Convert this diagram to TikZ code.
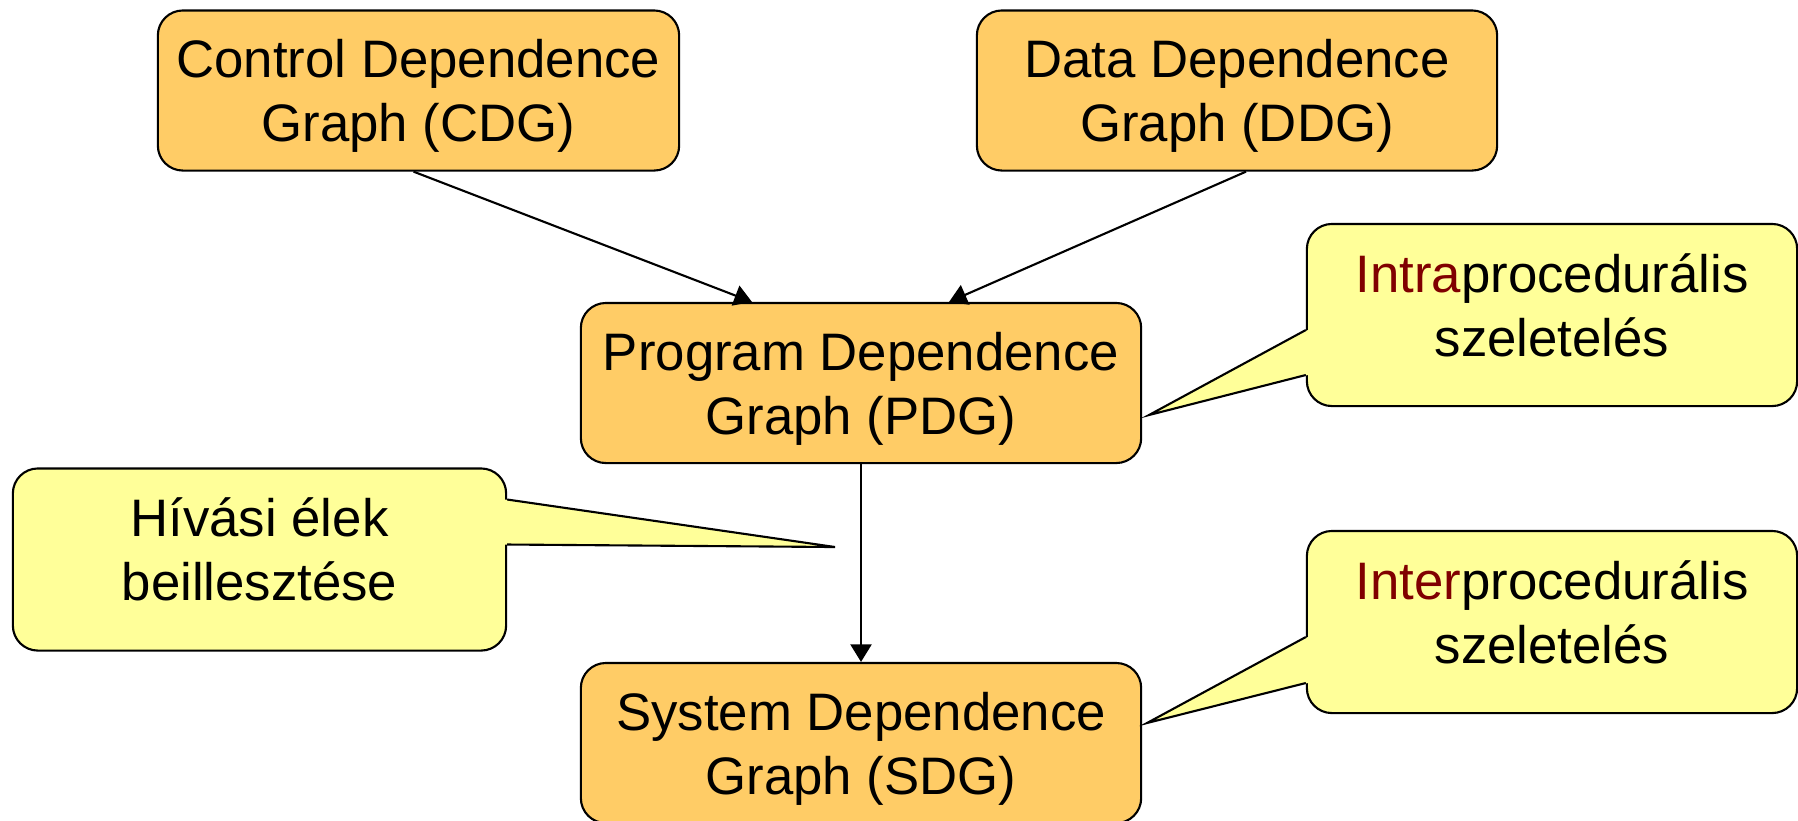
\documentclass[tikz,border=0pt]{standalone}
\usepackage{fontspec}
\setmainfont{Liberation Sans}
\usepackage{xcolor}
\usetikzlibrary{arrows.meta, calc}

\definecolor{boxorange}{HTML}{FFCC66}
\definecolor{noteyellow}{HTML}{FFFF99}
\definecolor{darkred}{HTML}{800000}

\tikzset{
    graphbox/.style={draw, fill=boxorange, line width=0.6pt, rounded corners=0.25cm,
        align=center, inner sep=0pt, minimum height=1.6cm, text depth=0pt},
    notebox/.style={draw, fill=noteyellow, line width=0.6pt, rounded corners=0.25cm,
        align=center, inner sep=0pt, minimum width=4.9cm, minimum height=1.82cm, text depth=5.7pt},
    pointer/.style={line width=0.6pt, line join=miter}
}

\begin{document}
\begin{tikzpicture}[x=0.01cm, y=-0.01cm, >={Triangle[length=5pt, width=6pt]},
    font=\fontsize{15pt}{18.2pt}\selectfont]
    \useasboundingbox (0,0) rectangle (1798,820);

    % Graphs
    \node[graphbox, minimum width=5.21cm] (cdg) at (418.5, 90.5) {Control Dependence\\Graph (CDG)};
    \node[graphbox, minimum width=5.2cm] (ddg) at (1237, 90.5) {Data Dependence\\Graph (DDG)};
    \node[graphbox, minimum width=5.6cm] (pdg) at (861, 383) {Program Dependence\\Graph (PDG)};
    \node[graphbox, minimum width=5.6cm] (sdg) at (861, 743) {System Dependence\\Graph (SDG)};

    % Edges
    \draw[->, line width=0.6pt] ([xshift=-0.05cm]cdg.south) -- ([xshift=-1.09cm]pdg.north);
    \draw[->, line width=0.6pt] ([xshift=0.09cm]ddg.south) -- ([xshift=0.88cm]pdg.north);
    \draw[->, line width=0.6pt] (pdg.south) -- (sdg.north);

    % Notes
    \node[notebox] (intra) at (1552, 315) {\textcolor{darkred}{Intra}procedurális\\szeletelés};
    \node[notebox] (inter) at (1552, 622) {\textcolor{darkred}{Inter}procedurális\\szeletelés};
    \node[notebox, minimum width=4.93cm] (hivas) at (259.5, 559.5) {Hívási élek\\beillesztése};

    \coordinate (intratip) at (1149, 415);
    \coordinate (intertip) at (1147, 723);
    \coordinate (hivastip) at (835, 547);

    \fill[noteyellow] ($(intra.west)+(2,15)$) -- (intratip) -- ($(intra.west)+(2,60)$) -- cycle;
    \draw[pointer] ($(intra.west)+(0,15)$) -- (intratip) -- ($(intra.west)+(0,60)$);

    \fill[noteyellow] ($(inter.west)+(2,15)$) -- (intertip) -- ($(inter.west)+(2,61)$) -- cycle;
    \draw[pointer] ($(inter.west)+(0,15)$) -- (intertip) -- ($(inter.west)+(0,61)$);

    \fill[noteyellow] ($(hivas.east)+(-2,-60)$) -- (hivastip) -- ($(hivas.east)+(-2,-15)$) -- cycle;
    \draw[pointer] ($(hivas.east)+(0,-60)$) -- (hivastip) -- ($(hivas.east)+(0,-15)$);
\end{tikzpicture}
\end{document}
